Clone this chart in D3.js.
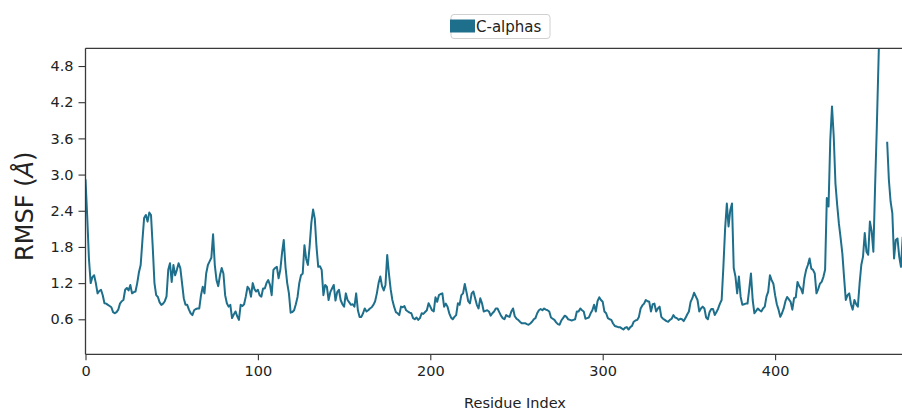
<!DOCTYPE html>
<html>
<head>
<meta charset="utf-8">
<script src="https://cdn.jsdelivr.net/npm/d3@7"></script>
<style>
  html, body { margin: 0; padding: 0; background: #fff; }
  svg { display: block; }
  text { font-family: "DejaVu Sans", sans-serif; fill: #222; }
</style>
</head>
<body>
<svg id="chart" width="902" height="410"></svg>
<script>
// RMSF per residue (index = residue number); null = missing value
const rmsf = [
  2.92, 2.3, 1.6, 1.2, 1.3, 1.33, 1.2, 1.03, 1.07, 1.09,
  1.0, 0.865, 0.86, 0.84, 0.82, 0.8, 0.72, 0.7, 0.72, 0.76,
  0.86, 0.9, 0.92, 1.09, 1.12, 1.08, 1.17, 1.03, 1.05, 1.06,
  1.2, 1.38, 1.5, 1.9, 2.28, 2.33, 2.22, 2.37, 2.33, 1.8,
  1.2, 1.0, 0.97, 0.88, 0.84, 0.86, 0.9, 0.98, 1.42, 1.53,
  1.22, 1.5, 1.33, 1.42, 1.53, 1.45, 1.2, 0.95, 0.84, 0.84,
  0.76, 0.7, 0.67, 0.75, 0.77, 0.78, 0.78, 1.0, 1.14, 1.03,
  1.36, 1.5, 1.56, 1.62, 2.01, 1.5, 1.25, 1.15, 1.33, 1.45,
  1.36, 1.0, 0.865, 0.81, 0.84, 0.62, 0.68, 0.73, 0.65, 0.59,
  0.84, 0.82, 0.85, 0.98, 1.14, 1.1, 0.975, 1.2, 1.1, 1.06,
  1.09, 1.0, 0.975, 1.11, 1.11, 1.2, 1.25, 1.17, 1.0, 1.42,
  1.45, 1.47, 1.28, 1.42, 1.7, 1.915, 1.47, 1.2, 1.03, 0.71,
  0.72, 0.75, 0.85, 0.97, 1.2, 1.33, 1.36, 1.83, 1.6, 1.5,
  1.81, 2.2, 2.42, 2.27, 1.8, 1.47, 1.48, 1.42, 1.0, 1.17,
  1.14, 0.92, 1.05, 1.11, 1.17, 0.91, 1.05, 1.09, 0.92, 0.85,
  0.81, 1.03, 0.92, 0.88, 0.84, 0.85, 0.81, 1.03, 0.75, 0.64,
  0.64, 0.7, 0.78, 0.73, 0.75, 0.78, 0.8, 0.84, 0.9, 1.03,
  1.2, 1.31, 1.15, 1.08, 1.17, 1.667, 1.36, 1.1, 0.92, 0.81,
  0.72, 0.7, 0.67, 0.81, 0.8, 0.82, 0.75, 0.73, 0.71, 0.7,
  0.62, 0.6, 0.63, 0.59, 0.62, 0.7, 0.69, 0.72, 0.75, 0.865,
  0.81, 0.75, 0.73, 0.965, 0.89, 1.0, 1.02, 1.03, 0.81, 0.86,
  0.81, 0.7, 0.63, 0.6, 0.64, 0.67, 0.865, 0.84, 1.0, 1.03,
  1.185, 1.05, 0.9, 0.865, 1.03, 1.06, 0.95, 0.84, 0.78, 0.95,
  0.865, 0.73, 0.74, 0.75, 0.73, 0.66, 0.7, 0.73, 0.78, 0.78,
  0.72, 0.66, 0.62, 0.6, 0.67, 0.65, 0.64, 0.73, 0.78, 0.65,
  0.61, 0.59, 0.56, 0.535, 0.535, 0.535, 0.52, 0.51, 0.53, 0.56,
  0.6, 0.62, 0.7, 0.75, 0.77, 0.75, 0.78, 0.76, 0.75, 0.73,
  0.63, 0.61, 0.59, 0.55, 0.52, 0.51, 0.58, 0.62, 0.66, 0.64,
  0.6, 0.59, 0.58, 0.59, 0.6, 0.73, 0.73, 0.78, 0.75, 0.73,
  0.61, 0.62, 0.63, 0.7, 0.75, 0.84, 0.73, 0.9, 0.965, 0.92,
  0.89, 0.73, 0.7, 0.62, 0.6, 0.59, 0.53, 0.49, 0.48, 0.47,
  0.47, 0.45, 0.43, 0.46, 0.47, 0.43, 0.47, 0.49, 0.56, 0.58,
  0.59, 0.64, 0.78, 0.83, 0.86, 0.92, 0.9, 0.89, 0.73, 0.85,
  0.86, 0.73, 0.78, 0.81, 0.64, 0.61, 0.59, 0.57, 0.56, 0.59,
  0.61, 0.67, 0.63, 0.62, 0.59, 0.61, 0.6, 0.57, 0.62, 0.68,
  0.73, 0.89, 0.95, 1.04, 0.98, 0.92, 0.73, 0.78, 0.81, 0.78,
  0.63, 0.6, 0.72, 0.77, 0.77, 0.67, 0.72, 0.78, 0.86, 0.92,
  1.47, 2.1, 2.52, 2.14, 2.41, 2.52, 1.45, 1.31, 1.03, 1.31,
  0.975, 0.84, 0.85, 0.86, 0.86, 1.1, 1.36, 0.92, 0.7, 0.74,
  0.78, 0.75, 0.73, 0.78, 0.81, 0.975, 1.06, 1.33, 1.25, 1.19,
  1.0, 0.85, 0.76, 0.64, 0.7, 0.78, 0.9, 0.97, 0.93, 0.89,
  0.76, 0.95, 0.965, 1.22, 1.15, 1.11, 1.03, 1.28, 1.42, 1.5,
  1.61, 1.44, 1.42, 1.36, 1.03, 1.1, 1.19, 1.22, 1.3, 1.42,
  2.61, 2.47, 3.57, 4.13, 3.64, 2.855, 2.5, 2.19, 1.95, 1.695,
  1.3, 0.92, 1.0, 1.03, 0.85, 0.76, 0.92, 0.85, 0.81, 1.19,
  1.5, 1.64, 2.03, 1.72, 1.67, 2.22, 2.06, 1.72, 2.8, 3.79,
  4.9, 6.0, null, null, null, 3.545, 2.91, 2.55, 2.36, 1.61,
  1.915, 1.94, 1.64, 1.47, 1.97
];
const residues = rmsf.map((_, i) => i);
const xTicks = [0, 100, 200, 300, 400];
const yTicks = [0.6, 1.2, 1.8, 2.4, 3.0, 3.6, 4.2, 4.8];
const seriesName = "C-alphas";
const lineColor = "#1e6f8c";

const svg = d3.select("#chart");
const pLeft = 85.5, pTop = 48.3, pBottom = 354.3;
const x = d3.scaleLinear().domain([0, 480]).range([pLeft, pLeft + 480 * 1.724]);
const y = d3.scaleLinear().domain([0.0196, 5.094]).range([pBottom, pTop]);

svg.append("defs").append("clipPath").attr("id", "plotclip")
  .append("rect").attr("x", pLeft).attr("y", pTop)
  .attr("width", 902 - pLeft).attr("height", pBottom - pTop);

// line
const line = d3.line()
  .defined(d => d[1] !== null)
  .x(d => x(d[0])).y(d => y(d[1]));
svg.append("path")
  .datum(residues.map((r, i) => [r, rmsf[i]]))
  .attr("clip-path", "url(#plotclip)")
  .attr("fill", "none")
  .attr("stroke", lineColor)
  .attr("stroke-width", 2)
  .attr("stroke-linejoin", "round")
  .attr("d", line);

// axes
const xAxis = d3.axisBottom(x).tickValues(xTicks).tickFormat(d3.format("d"))
  .tickSize(6).tickPadding(5);
const gx = svg.append("g").attr("transform", `translate(0,${pBottom})`).call(xAxis);
const yAxis = d3.axisLeft(y).tickValues(yTicks).tickFormat(d3.format(".1f"))
  .tickSize(7).tickPadding(5);
const gy = svg.append("g").attr("transform", `translate(${pLeft},0)`).call(yAxis);
[gx, gy].forEach(g => {
  g.select(".domain").remove();
  g.selectAll(".tick line").attr("stroke", "#333").attr("stroke-width", 1.1);
  g.selectAll(".tick text").attr("font-size", 14.5)
    .attr("font-family", "DejaVu Sans").attr("fill", "#222");
});

// spines
const sp = svg.append("g").attr("stroke", "#3a3a3a").attr("stroke-width", 1.3);
sp.append("line").attr("x1", pLeft).attr("x2", pLeft).attr("y1", pTop).attr("y2", pBottom);
sp.append("line").attr("x1", pLeft).attr("x2", 902).attr("y1", pBottom).attr("y2", pBottom);
sp.append("line").attr("x1", pLeft).attr("x2", 902).attr("y1", pTop).attr("y2", pTop);

// axis labels
svg.append("text").attr("x", 515).attr("y", 408)
  .attr("text-anchor", "middle").attr("font-size", 14.5).text("Residue Index");
const yl = svg.append("text")
  .attr("transform", `translate(33,${(pTop + pBottom) / 2 + 5}) rotate(-90)`)
  .attr("text-anchor", "middle").attr("font-size", 24);
yl.append("tspan").text("RMSF (");
yl.append("tspan").attr("font-style", "italic").text("Å");
yl.append("tspan").text(")");

// legend
const lg = svg.append("g");
lg.append("rect").attr("x", 451).attr("y", 14.5).attr("width", 99).attr("height", 24)
  .attr("rx", 3).attr("fill", "#fff").attr("stroke", "#d0d0d0");
lg.append("rect").attr("x", 450).attr("y", 19.5).attr("width", 25).attr("height", 13)
  .attr("fill", lineColor);
lg.append("text").attr("x", 476).attr("y", 32).attr("font-size", 15).text(seriesName);
</script>
</body>
</html>
